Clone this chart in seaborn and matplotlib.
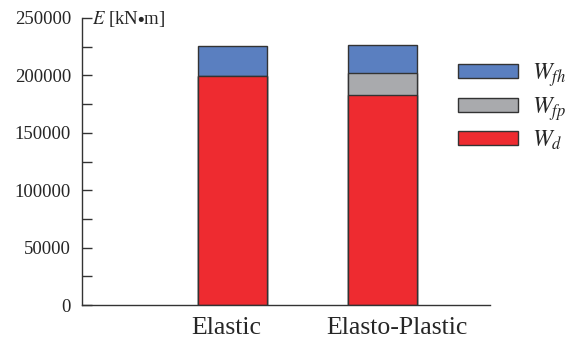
import matplotlib
matplotlib.use("Agg")
import matplotlib.pyplot as plt
import matplotlib.transforms as mtransforms
import seaborn as sns
import pandas as pd
import numpy as np
from matplotlib.patches import Patch
from matplotlib.ticker import MultipleLocator

categories = ["Elastic", "Elasto-Plastic"]
w_d = [199500, 183000]
w_fp = [0, 19500]
w_fh = [26000, 24000]
series_labels = [r"$W_{fh}$", r"$W_{fp}$", r"$W_{d}$"]
colors = {"fh": "#5A7FC0", "fp": "#A9AAAD", "d": "#EE2B30"}
y_ticks = [0, 50000, 100000, 150000, 200000, 250000]

sns.set_style("white")
plt.rcParams["font.family"] = ["Liberation Serif", "DejaVu Serif"]
plt.rcParams["mathtext.fontset"] = "stix"

df = pd.DataFrame({"cat": categories, "d": w_d, "fp": w_fp, "fh": w_fh})
df["c_d"] = df["d"]
df["c_fp"] = df["d"] + df["fp"]
df["c_fh"] = df["d"] + df["fp"] + df["fh"]

fig = plt.figure(figsize=(5.72, 3.38), dpi=100)
ax = fig.add_axes([82 / 572, 1 - 305 / 338, (490 - 82) / 572, 287 / 338])

for key in ["fh", "fp", "d"]:
    sns.barplot(data=df, x="cat", y="c_" + key, color=colors[key], width=0.457,
                edgecolor="#333333", linewidth=1.0, saturation=1, ax=ax)

ax.set_xlim(-0.995, 1.71)
ax.set_ylim(0, 250000)
ax.set_yticks(y_ticks)
ax.yaxis.set_minor_locator(MultipleLocator(25000))
ax.tick_params(axis="y", which="both", direction="in", length=7, width=1,
               labelsize=13.5, left=True, pad=8, color="#333333")
ax.tick_params(axis="x", length=0, labelsize=18.5, pad=8.5)
ax.set_xlabel("")
ax.set_ylabel("")
for s in ["top", "right"]:
    ax.spines[s].set_visible(False)
for s in ["left", "bottom"]:
    ax.spines[s].set_color("#333333")
    ax.spines[s].set_linewidth(1.0)

# slight horizontal offsets of the category labels, as in the reference
for lab, dx in zip(ax.get_xticklabels(), [-6, 14]):
    lab.set_transform(lab.get_transform() +
                      mtransforms.ScaledTranslation(dx / 100, 0, fig.dpi_scale_trans))

ax.text(10 / 408, 1.0 - 1 / 287, r"$E$ [kN$\bullet$m]", transform=ax.transAxes,
        fontsize=13.5, va="center", ha="left")

handles = [Patch(facecolor=colors[k], edgecolor="#333333", linewidth=1.0)
           for k in ["fh", "fp", "d"]]
fig.legend(handles, series_labels, loc="upper left",
           bbox_to_anchor=(458 / 572, 1 - 61 / 338), frameon=False,
           fontsize=17, handlelength=2.54, handleheight=0.55,
           labelspacing=0.25, handletextpad=0.6, borderpad=0, borderaxespad=0)

fig.savefig("out.png", dpi=100)
